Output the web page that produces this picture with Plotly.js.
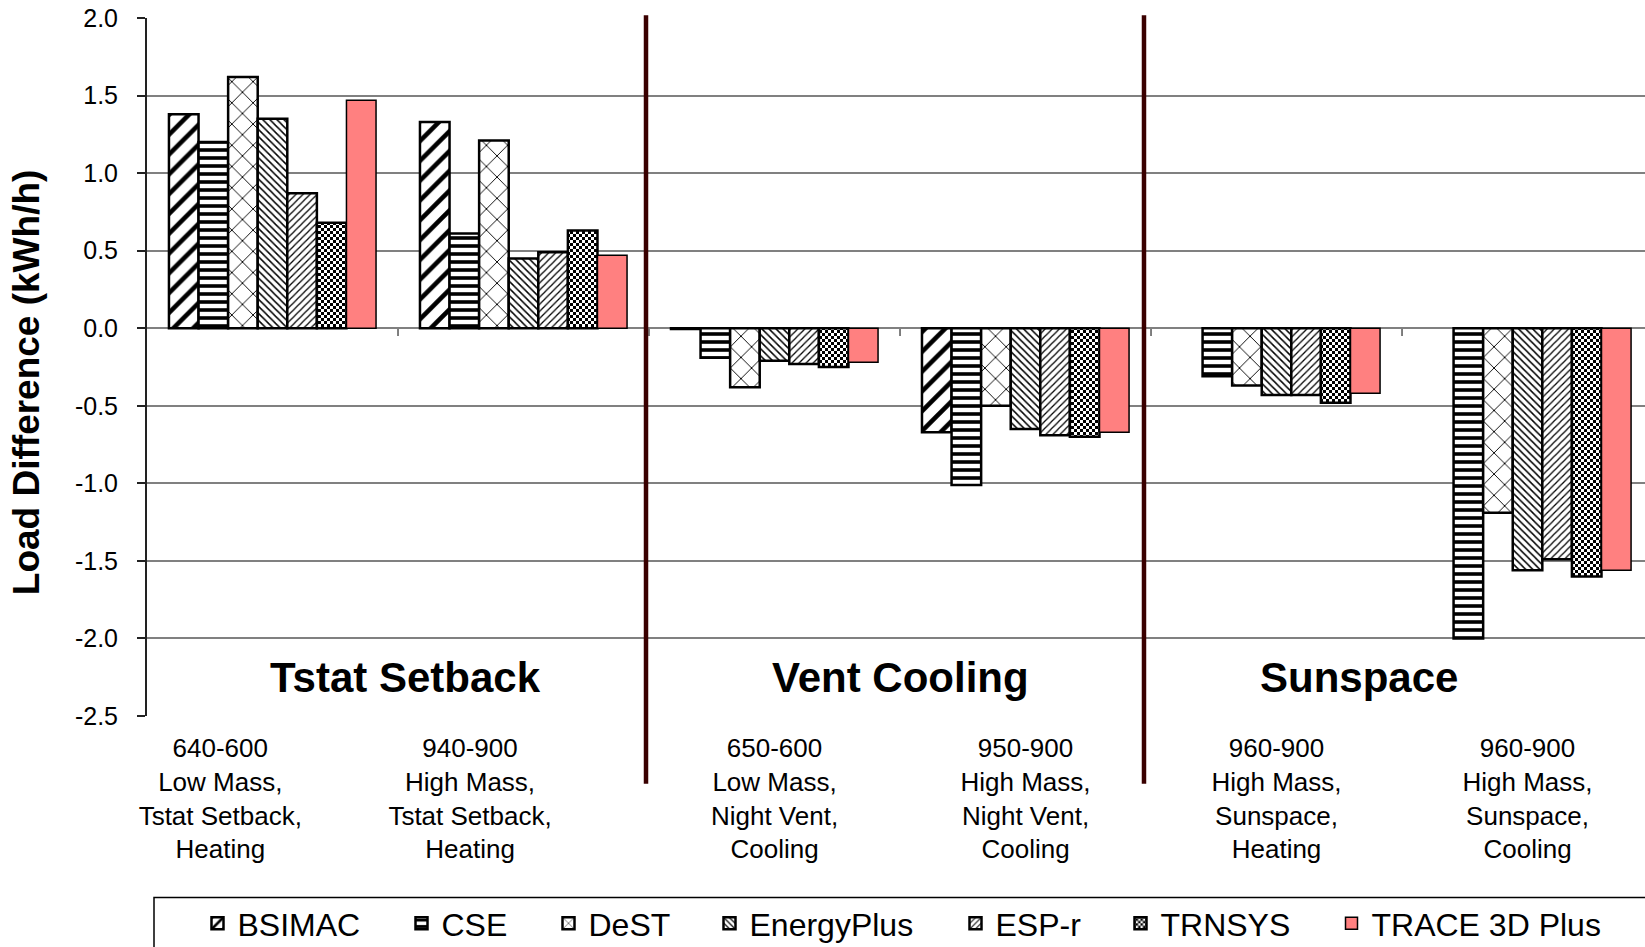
<!DOCTYPE html>
<html><head><meta charset="utf-8">
<script src="https://cdn.plot.ly/plotly-3.0.1.min.js"></script>
<style>html,body{margin:0;padding:0;background:#fff}</style>
</head><body><div id="chart" style="width:1645px;height:947px"></div>
<script>
// ---- data ----
const categories = [
  '640-600<br>Low Mass,<br>Tstat Setback,<br>Heating',
  '940-900<br>High Mass,<br>Tstat Setback,<br>Heating',
  '650-600<br>Low Mass,<br>Night Vent,<br>Cooling',
  '950-900<br>High Mass,<br>Night Vent,<br>Cooling',
  '960-900<br>High Mass,<br>Sunspace,<br>Heating',
  '960-900<br>High Mass,<br>Sunspace,<br>Cooling'
];
const seriesNames = ['BSIMAC','CSE','DeST','EnergyPlus','ESP-r','TRNSYS','TRACE 3D Plus'];
const bsimac     = [1.38, 1.33, -0.005, -0.67, null, null];
const cse        = [1.20, 0.61, -0.19, -1.01, -0.31, -2.00];
const dest       = [1.62, 1.21, -0.38, -0.50, -0.37, -1.19];
const energyplus = [1.35, 0.45, -0.21, -0.65, -0.43, -1.56];
const espr       = [0.87, 0.49, -0.23, -0.69, -0.43, -1.49];
const trnsys     = [0.68, 0.63, -0.25, -0.70, -0.48, -1.60];
const trace3d    = [1.47, 0.47, -0.22, -0.67, -0.42, -1.56];
const groupLabels = ['Tstat Setback','Vent Cooling','Sunspace'];
const yTickVals = [-2.5, -2.0, -1.5, -1.0, -0.5, 0.0, 0.5, 1.0, 1.5, 2.0];
const yTickText = ['-2.5','-2.0','-1.5','-1.0','-0.5','0.0','0.5','1.0','1.5','2.0'];
const yTitle = 'Load Difference (kWh/h)';

const seriesValues = [bsimac, cse, dest, energyplus, espr, trnsys, trace3d];

// ---- styles / layout ----
const FONT = 'Arial, "Liberation Sans", sans-serif';
const patterns = [
  {shape:'/', size:14, solidity:0.33},
  {shape:'-', size:8, solidity:0.45},
  {shape:'x', size:15, solidity:0.12},
  {shape:'\\', size:5, solidity:0.3},
  {shape:'/', size:5, solidity:0.25},
  {shape:'', path:'M0,0H3V3H0Z M3,3H6V6H3Z', size:6, solidity:0.5},
  null
];
// legend swatch centres (px, in the page) for each entry
const legendSwatchPx = [220, 424, 571, 732, 978, 1143, 1354];
const legendIds = ['legend','legend2','legend3','legend4','legend5','legend6','legend7'];
// category label centres (axis units); the first two sit left of their bar groups
const xLabelPos = [-0.208, 0.787, 2, 3, 4, 5];

const traces = seriesNames.map((name, i) => {
  const p = patterns[i];
  const marker = p ? {
    color:'white',
    line:{color:'black', width:2.5},
    pattern: Object.assign({fgcolor:'black', bgcolor:'white', fillmode:'replace'}, p)
  } : {color:'#FF8080', line:{color:'black', width:1.5}};
  return {type:'bar', name:name, x:categories, y:seriesValues[i], marker:marker,
          legend:legendIds[i]};
});

const W = 1645, H = 947;
const sepX = [1.488, 3.472];
const shapes = [];
sepX.forEach(x => shapes.push({type:'line', xref:'x', yref:'paper', x0:x, x1:x, y0:-0.097, y1:1.004,
  line:{color:'#3a0000', width:4.5}, layer:'above'}));
for (let k = 0; k < 5; k++) {
  shapes.push({type:'line', xref:'x', yref:'y', x0:k+0.5, x1:k+0.5, y0:0, y1:-0.05,
    line:{color:'#555', width:1.5}, layer:'below'});
}
// legend frame
shapes.push({type:'rect', xref:'paper', yref:'paper', x0:(154-147)/1498, x1:1.05, y0:(716.3-898)/698.4, y1:-0.5,
  line:{color:'black', width:1.5}, fillcolor:'rgba(0,0,0,0)'});

const groupX = [0.53, 2.5, 4.33];
const annotations = groupLabels.map((t, i) => ({
  text:'<b>'+t+'</b>', x:groupX[i], y:-2.25, xref:'x', yref:'y', showarrow:false,
  font:{family:FONT, size:42, color:'black'}, xanchor:'center', yanchor:'middle'
}));

const layout = {
  width:W, height:H,
  margin:{l:147, r:0, t:18, b:231},
  paper_bgcolor:'white', plot_bgcolor:'white',
  barmode:'group', bargap:0.175, bargroupgap:0,
  showlegend:true,
  xaxis:{type:'category', range:[-0.5, 5.468], showgrid:false, zeroline:false, showline:false, ticks:'',
    tickmode:'array', tickvals:xLabelPos, ticktext:categories, tickangle:0,
    ticklabelstandoff:14,
    tickfont:{family:FONT, size:26, color:'black'}, fixedrange:true, automargin:false},
  yaxis:{range:[-2.5, 2.0], tickmode:'array', tickvals:yTickVals, ticktext:yTickText,
    showgrid:true, gridcolor:'#808080', gridwidth:2, zeroline:false,
    showline:true, linecolor:'#222', linewidth:2, ticks:'outside', ticklen:8, tickwidth:2, tickcolor:'#222',
    ticklabelstandoff:14,
    tickfont:{family:FONT, size:25, color:'black'},
    title:{text:'<b>'+yTitle+'\u00a0\u00a0\u00a0</b>', font:{family:FONT, size:37, color:'black'}, standoff:24},
    automargin:false},
  shapes:shapes, annotations:annotations
};
legendIds.forEach((id, i) => {
  layout[id] = {orientation:'h', xref:'container', yref:'container',
    x:(legendSwatchPx[i]-22.5)/W, y:1-896/H, xanchor:'left', yanchor:'top',
    font:{family:FONT, size:32, color:'black'}, bgcolor:'rgba(0,0,0,0)', borderwidth:0};
});

Plotly.newPlot('chart', traces, layout, {displayModeBar:false, staticPlot:true});
</script></body></html>
